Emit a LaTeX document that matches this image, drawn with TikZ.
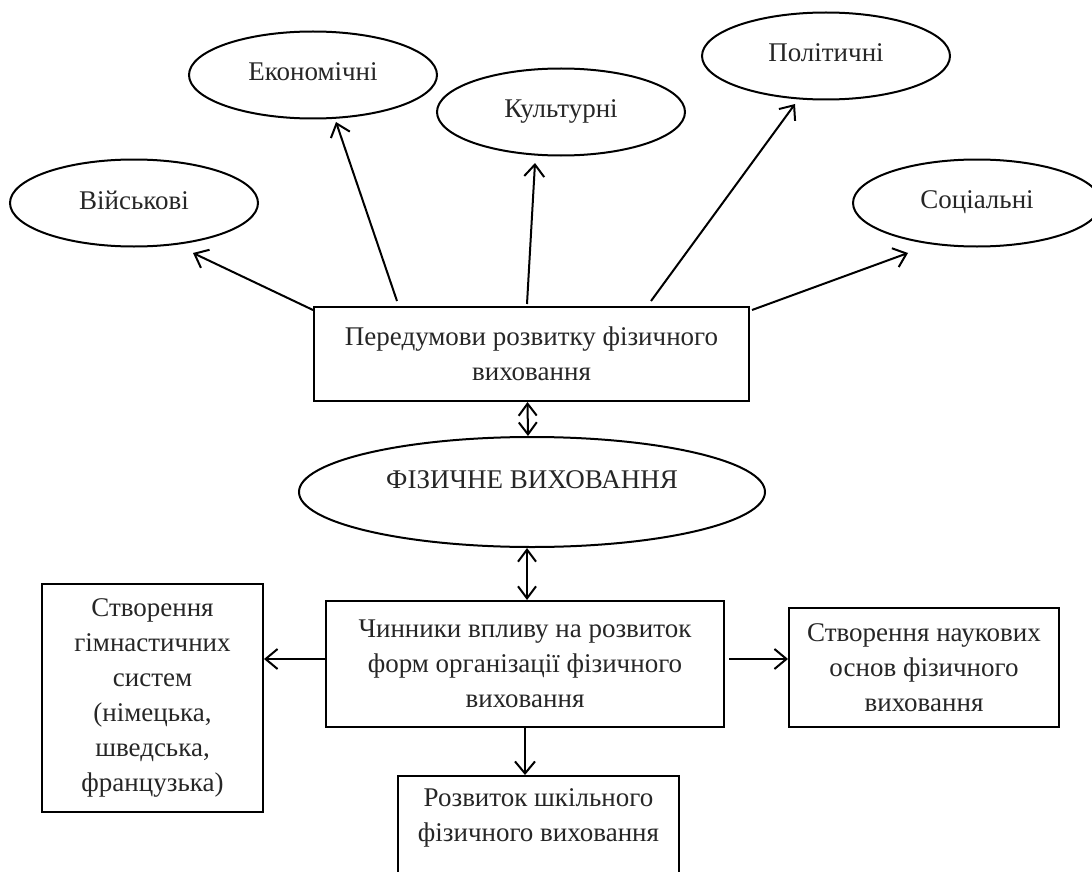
\documentclass[tikz,border=0pt]{standalone}
\usepackage{fontspec}
\setmainfont{Liberation Serif}
\usetikzlibrary{shapes.geometric,arrows.meta,calc}
\begin{document}
\begin{tikzpicture}[x=1pt,y=-1pt,
  every node/.style={font=\fontsize{27}{35}\selectfont, text=black!85},
  ell/.style={draw, line width=2pt, ellipse, inner sep=0pt, minimum width=248pt, minimum height=87pt},
  box/.style={draw, line width=2pt, rectangle, inner sep=0pt, align=center},
  arr/.style={line width=2pt, -{Straight Barb[length=12pt,width=20pt,line width=2pt]}},
  darr/.style={line width=2pt, {Straight Barb[length=12pt,width=18pt,line width=2pt]}-{Straight Barb[length=12pt,width=18pt,line width=2pt]}}
]
\useasboundingbox (0,0) rectangle (1092,872);
\clip (0,0) rectangle (1092,872);

% top ellipses
\node[ell] (v) at (134,203) {\raisebox{6pt}{Військові}};
\node[ell] (e) at (313,75) {\raisebox{6pt}{Економічні}};
\node[ell] (k) at (561,112) {\raisebox{6pt}{Культурні}};
\node[ell] (pol) at (826,56) {\raisebox{6pt}{Політичні}};
\node[ell] (s) at (977,203) {\raisebox{6pt}{Соціальні}};

% central boxes
\node[box, minimum width=435pt, minimum height=94pt] (p) at (531.5,354)
  {Передумови розвитку фізичного\\виховання};
\node[draw, line width=2pt, ellipse, inner sep=0pt, minimum width=466pt, minimum height=110pt] (fv) at (532,492)
  {\raisebox{24pt}{ФІЗИЧНЕ ВИХОВАННЯ}};
\node[box, minimum width=398pt, minimum height=126pt] (ch) at (525,664)
  {Чинники впливу на розвиток\\форм організації фізичного\\виховання};
\node[box, minimum width=221pt, minimum height=228pt] (g) at (152.5,698)
  {Створення\\гімнастичних\\систем\\(німецька,\\шведська,\\французька)};
\node[box, minimum width=270pt, minimum height=119pt] (n) at (924,667.5)
  {Створення наукових\\основ фізичного\\виховання};
\node[box, anchor=north, minimum width=281pt, minimum height=150pt] (r) at (538.5,775) {};
\node[align=center] (rt) at (538.5,818) {Розвиток шкільного\\фізичного виховання};

% arrow tips
\coordinate (tv) at (193,253);
\coordinate (te) at (336,122);
\coordinate (tk) at (535,163);
\coordinate (tp) at (795,104);
\coordinate (ts) at (908,253);

\draw[arr] ([yshift=-4pt]p.north west) -- (tv);
\draw[arr] ([xshift=84pt,yshift=5pt]p.north west) -- (te);
\draw[arr] ([xshift=214pt,yshift=2pt]p.north west) -- (tk);
\draw[arr] ([xshift=338pt,yshift=5pt]p.north west) -- (tp);
\draw[arr] ([xshift=2pt,yshift=-4pt]p.north east) -- (ts);

% double arrows
\draw[darr] ([xshift=-4pt]p.south) -- ([xshift=-4pt]fv.north);
\draw[darr] ([xshift=-5pt]fv.south) -- ([xshift=2pt]ch.north);

% arrows from Chynnyky
\coordinate (cw) at ([yshift=5pt]ch.west);
\coordinate (ce) at ([xshift=4pt,yshift=5pt]ch.east);
\draw[arr] (cw) -- (cw -| g.east);
\draw[arr] (ce) -- (ce -| n.west);
\draw[arr] (ch.south) -- (ch.south |- r.north);
\end{tikzpicture}
\end{document}
